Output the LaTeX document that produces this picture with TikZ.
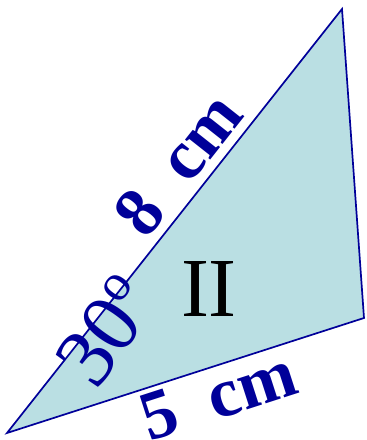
\documentclass[tikz,border=0pt]{standalone}
\usepackage{fontspec}
\setmainfont{Liberation Serif}
\definecolor{tfill}{RGB}{186,223,227}
\definecolor{tline}{RGB}{0,0,153}
\begin{document}
\begin{tikzpicture}[x=1pt,y=1pt,
  lbl/.style={text=tline,font=\fontsize{70}{70}\selectfont\bfseries,inner sep=0pt},
  ang/.style={text=tline,font=\fontsize{84}{84}\selectfont,inner sep=0pt}]
\useasboundingbox (0,0) rectangle (367,440);
\coordinate (A) at (7,7);
\coordinate (B) at (342,431);
\coordinate (C) at (364,122);
\fill[tfill] (A) -- (B) -- (C) -- cycle;
\draw[tline,line width=1.7pt,line join=miter] (A) -- (B) -- (C) -- cycle;
\node[font=\fontsize{84}{84}\selectfont,inner sep=0pt] (II) at (209,151) {II};
\node[lbl,rotate=51.7] (L8) at (178,276) {8\hspace{0.5em}cm};
\node[lbl,rotate=17.9] (L5) at (218,44) {5\hspace{0.5em}cm};
\node[ang,rotate=54] (ANG) at (106,109) {30\raisebox{0.38em}{\fontsize{52}{52}\selectfont o}};
\end{tikzpicture}
\end{document}
